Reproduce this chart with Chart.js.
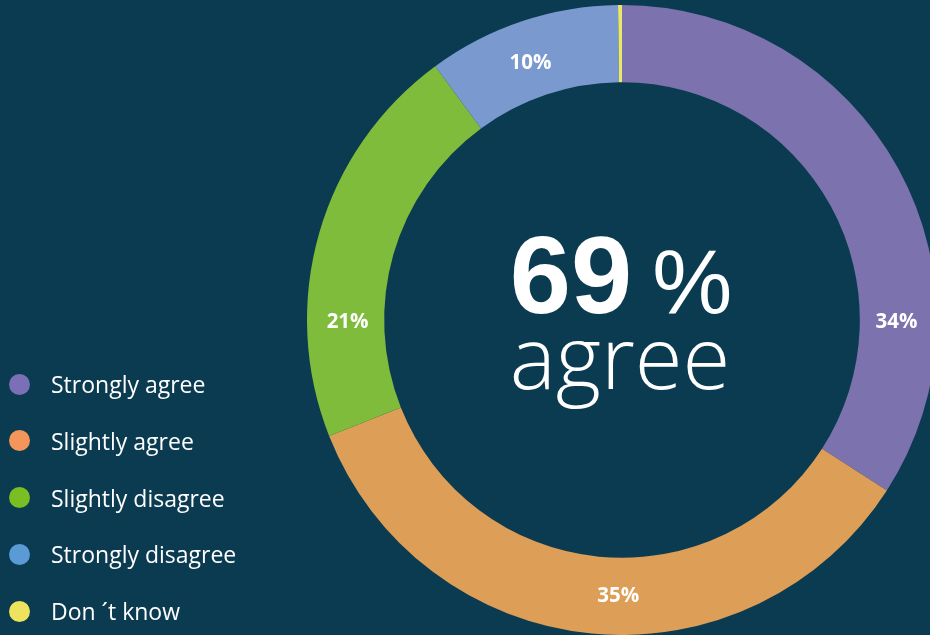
<!DOCTYPE html>
<html>
<head>
<meta charset="utf-8">
<script src="https://cdn.jsdelivr.net/npm/chart.js@4"></script>
<style>
    html, body { margin: 0; padding: 0; background: #0a3b50; overflow: hidden; }
    #wrap { position: relative; width: 944px; height: 635px; }
    #legend { position: absolute; left: 0; top: 0; }
    .item {
        position: absolute; left: 9px; height: 24px;
        display: flex; align-items: center; white-space: nowrap;
        font-family: "Open Sans", sans-serif; font-size: 23px; color: #fff;
    }
    .dot { width: 21px; height: 21px; border-radius: 50%; margin-right: 21px; }
</style>
</head>
<body>
<div id="wrap">
    <canvas id="c" width="944" height="635"></canvas>
    <div id="legend"></div>
</div>
<script>
// ── Data ─────────────────────────────────────────────
const categories   = ['Strongly agree', 'Slightly agree', 'Slightly disagree', 'Strongly disagree', 'Don \u00b4t know'];
const shares       = [34.1, 34.9, 20.9, 9.9, 0.2];
const shareLabels  = ['34%', '35%', '21%', '10%', ''];
const sliceColors  = ['#7b72ae', '#dd9e57', '#80bc3c', '#7a9acf', '#e8e86a'];
const legendColors = ['#7b6fb5', '#f4955a', '#79be22', '#5b9bd5', '#eee35c'];
const centerBig    = '69';
const centerPct    = '%';
const centerWord   = 'agree';

// label angles (degrees clockwise from top) where the report placed them
const labelAngles  = [90, 180.8, 270, 340.5, null];

const legendRowY = 384, legendStep = 56.8;

// ── Legend (HTML) ────────────────────────────────────
const legendEl = document.getElementById('legend');
categories.forEach((name, i) => {
    const row = document.createElement('div');
    row.className = 'item';
    row.style.top = (legendRowY + i * legendStep - 12) + 'px';
    row.innerHTML = `<span class="dot" style="background:${legendColors[i]}"></span>${name}`;
    legendEl.appendChild(row);
});

// ── Plugins ──────────────────────────────────────────
const sliceLabels = {
    id: 'sliceLabels',
    afterDatasetsDraw(chart) {
        const ctx = chart.ctx;
        const arcs = chart.getDatasetMeta(0).data;
        ctx.save();
        ctx.fillStyle = '#fff';
        ctx.font = 'bold 20.5px "Open Sans", sans-serif';
        ctx.textAlign = 'center';
        ctx.textBaseline = 'middle';
        arcs.forEach((arc, i) => {
            if (!shareLabels[i]) return;
            const r = (arc.innerRadius + arc.outerRadius) / 2 - 2;
            const a = (labelAngles[i] - 90) * Math.PI / 180;
            ctx.fillText(shareLabels[i], arc.x + r * Math.cos(a), arc.y + r * Math.sin(a) + 2);
        });
        ctx.restore();
    }
};

const centerText = {
    id: 'centerText',
    afterDraw(chart) {
        const ctx = chart.ctx;
        const arc = chart.getDatasetMeta(0).data[0];
        const cx = arc.x, cy = arc.y;
        ctx.save();
        ctx.fillStyle = '#fff';
        ctx.textBaseline = 'alphabetic';

        const bigFont = 'bold 110px "Liberation Sans", Arial, sans-serif';
        const pctFont = '90px "Liberation Sans", Arial, sans-serif';
        ctx.font = bigFont;
        const wBig = ctx.measureText(centerBig).width;
        ctx.font = pctFont;
        const wPct = ctx.measureText(centerPct).width;
        const gap = 20;
        const x0 = cx - 1 - (wBig + gap + wPct) / 2;
        ctx.textAlign = 'left';
        ctx.font = bigFont;
        ctx.fillText(centerBig, x0, cy - 7);
        ctx.font = pctFont;
        ctx.fillText(centerPct, x0 + wBig + gap, cy - 7);

        ctx.textAlign = 'center';
        ctx.font = '300 87px "Open Sans", sans-serif';
        ctx.fillText(centerWord, cx - 2, cy + 69);
        ctx.restore();
    }
};

// ── Chart ────────────────────────────────────────────
new Chart(document.getElementById('c'), {
    type: 'doughnut',
    data: {
        labels: categories,
        datasets: [{
            data: shares,
            backgroundColor: sliceColors,
            borderWidth: 0,
        }]
    },
    options: {
        responsive: false,
        animation: false,
        cutout: '75.5%',
        layout: { padding: { left: 307, right: 7, top: 5, bottom: 0 } },
        plugins: {
            legend: { display: false },
            tooltip: { enabled: false },
        }
    },
    plugins: [sliceLabels, centerText]
});
</script>
</body>
</html>
